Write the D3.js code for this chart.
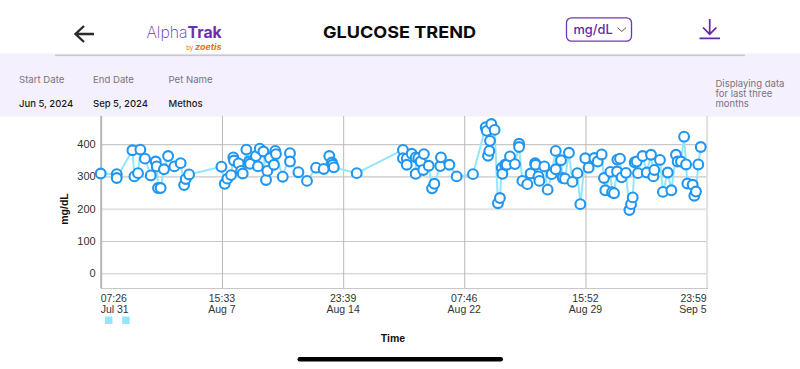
<!DOCTYPE html>
<html>
<head>
<meta charset="utf-8">
<script src="https://cdn.jsdelivr.net/npm/d3@7"></script>
<style>
html, body { margin: 0; padding: 0; background: #fff; overflow: hidden; }
text { font-family: "Liberation Sans", sans-serif; }
.ui text, text.ui { font-family: Inter, "Noto Sans", sans-serif; }
</style>
</head>
<body>
<svg id="chart" width="800" height="369"></svg>
<script>
// days since the first tick (Jul 31 07:26)
const days = [0,.97,.97,1.92,2.04,2.26,2.40,2.68,3.03,3.33,3.39,3.47,3.63,3.83,4.08,4.46,4.84,5.05,5.15,5.35,
  7.31,7.51,7.67,7.89,8.03,8.07,8.35,8.50,8.60,8.82,8.98,9.04,9.40,9.52,9.63,9.85,10.01,10.09,10.25,10.49,10.57,10.61,11.02,11.46,11.46,11.97,
  12.49,13.04,13.50,13.84,14.00,14.05,14.11,15.50,18.30,18.30,18.53,18.53,18.83,19.07,19.07,19.23,19.37,19.53,19.57,19.86,20.06,20.20,20.56,20.60,21.11,21.55,22.54,
  23.31,23.37,23.45,23.53,23.57,23.65,23.85,24.05,24.17,24.28,24.32,24.48,24.58,24.78,
  25.08,25.33,25.33,25.53,25.83,26.03,26.30,26.33,26.50,26.56,26.86,27.06,27.30,27.55,27.55,27.87,27.97,28.11,28.35,28.56,28.86,29.04,29.34,29.54,29.89,
  30.09,30.33,30.47,30.55,30.86,30.96,31.08,31.26,31.28,31.44,31.54,31.80,32.01,32.11,32.21,32.33,32.45,32.53,32.81,33.06,33.32,33.46,33.52,33.86,
  34.04,34.33,34.55,34.83,34.93,35.13,35.32,35.44,35.52,35.84,35.94,36.04,36.18,36.33];
const glucose = [309,307,295,381,300,310,383,355,303,346,331,264,264,322,363,331,341,273,292,306,
  330,277,293,304,359,349,340,317,309,383,346,339,363,331,386,377,289,317,357,336,379,369,299,372,346,313,
  286,327,323,363,343,336,328,310,382,356,355,336,370,359,308,357,346,320,369,333,263,277,332,359,336,300,307,
  452,441,364,379,410,462,444,217,233,326,308,336,336,362,
  338,401,391,286,276,309,341,336,300,286,331,259,307,379,322,350,295,293,373,283,310,214,356,327,357,
  346,368,295,257,314,251,248,315,352,355,297,311,196,214,235,344,346,310,363,312,367,300,320,351,
  252,312,257,367,346,346,423,337,278,274,240,253,337,391];
const yTicks = [0,100,200,300,400];
const xTickDays = [0,7.34,14.68,22.01,29.35,36.69];
const xTickTimes = ["07:26","15:33","23:39","07:46","15:52","23:59"];
const xTickDates = ["Jul 31","Aug 7","Aug 14","Aug 22","Aug 29","Sep 5"];
const legendDays = [0.26,1.3];
const infoLabels = ["Start Date","End Date","Pet Name"];
const infoValues = ["Jun 5, 2024","Sep 5, 2024","Methos"];
const infoX = [19,93,168.5];
const note = ["Displaying data","for last three","months"];

const svg = d3.select("#chart");
const x = d3.scaleLinear().domain([0,36.69]).range([100.7,706.7]);
const y = d3.scaleLinear().domain([-45.6,487]).range([288,116]);

// header panel
svg.append("rect").attr("x",0).attr("y",53.5).attr("width",800).attr("height",63).attr("fill","#f4f0fd");
svg.append("rect").attr("x",55).attr("y",54.5).attr("width",690).attr("height",1.6).attr("fill","#c9c7cd");

const ui = svg.append("g").attr("class","ui");
ui.append("path").attr("d","M94 34 H76 M84 26 L75.5 34 L84 42").attr("fill","none").attr("stroke","#2b2b2b").attr("stroke-width",2.4);

const logo = ui.append("text").attr("x",146.5).attr("y",38).attr("font-size",15.8).attr("fill","#6b2fb0");
logo.append("tspan").attr("font-weight",200).text("Alpha");
logo.append("tspan").attr("font-weight",700).text("Trak");
const by = ui.append("text").attr("x",221.5).attr("y",50).attr("text-anchor","end").attr("fill","#f26b21");
by.append("tspan").attr("font-size",6).text("by ");
by.append("tspan").attr("font-size",9).attr("font-weight",700).attr("font-style","italic").text("zoetis");

ui.append("text").attr("x",399.5).attr("y",38).attr("text-anchor","middle").attr("font-size",16.5).attr("font-weight",700).attr("fill","#0a0a0a")
  .attr("textLength",153).attr("lengthAdjust","spacingAndGlyphs").text("GLUCOSE TREND");

ui.append("rect").attr("x",566.5).attr("y",17.8).attr("width",65).attr("height",23.4).attr("rx",5).attr("fill","#fff").attr("stroke","#6f37ba").attr("stroke-width",1.3);
ui.append("text").attr("x",573.5).attr("y",34).attr("font-size",12.8).attr("font-weight",500).attr("fill","#6326ad").text("mg/dL");
ui.append("path").attr("d","M617.5 27.5 L621.8 31.5 L626 27.5").attr("fill","none").attr("stroke","#555").attr("stroke-width",1);
ui.append("path").attr("d","M709.7 19 V34 M703 27.5 L709.7 34.2 L716.4 27.5 M699.5 38.4 H720").attr("fill","none").attr("stroke","#6326ad").attr("stroke-width",1.7);

ui.selectAll(".info-label").data(infoLabels).join("text").attr("class","info-label")
  .attr("x",(d,i)=>infoX[i]).attr("y",83.2).attr("font-size",9.6).attr("fill","#77757c").text(d=>d);
ui.selectAll(".info-value").data(infoValues).join("text").attr("class","info-value")
  .attr("x",(d,i)=>infoX[i]).attr("y",106.8).attr("font-size",9.5).attr("font-weight",500).attr("fill","#1c1c1c").text(d=>d);
ui.selectAll(".note").data(note).join("text").attr("class","note")
  .attr("x",715.5).attr("y",(d,i)=>86.7+i*10.3).attr("font-size",9.5).attr("fill","#77757c").text(d=>d);

// axes and grid
const yAxis = svg.append("g").attr("transform","translate(100.7,0)")
  .call(d3.axisLeft(y).tickValues(yTicks).tickSize(-606).tickPadding(5));
yAxis.select(".domain").remove();
yAxis.selectAll("line").attr("stroke",d=>d==200?"#e3e3e3":"#c8c8c8").attr("stroke-width",d=>d==200?2:1.2);
yAxis.selectAll("text").attr("font-size",11).attr("fill","#333").style("font-family","'Liberation Sans'");

const xAxis = svg.append("g").attr("transform","translate(0,288)")
  .call(d3.axisBottom(x).tickValues(xTickDays).tickSize(-172).tickFormat(""));
xAxis.select(".domain").attr("stroke","#c8c8c8").attr("stroke-width",1.2);
xAxis.selectAll("line").attr("stroke",(d,i)=>i==5?"#e3e3e3":"#b9b9b9").attr("stroke-width",(d,i)=>i==5||i==0?2:1);

const anchors = ["start","middle","middle","middle","middle","end"];
const labels = svg.append("g");
labels.selectAll(".t").data(xTickDays).join("text").attr("class","t")
  .attr("x",d=>x(d)).attr("y",302).attr("text-anchor",(d,i)=>anchors[i])
  .attr("font-size",10.5).attr("fill","#333").text((d,i)=>xTickTimes[i]);
labels.selectAll(".d").data(xTickDays).join("text").attr("class","d")
  .attr("x",d=>x(d)).attr("y",313).attr("text-anchor",(d,i)=>anchors[i])
  .attr("font-size",10.5).attr("fill","#333").text((d,i)=>xTickDates[i]);

svg.append("text").attr("transform","translate(67.5,209) rotate(-90)").attr("text-anchor","middle")
  .attr("font-size",10.5).attr("font-weight",700).attr("fill","#111").text("mg/dL");
svg.append("text").attr("x",393).attr("y",342).attr("text-anchor","middle")
  .attr("font-size",10.5).attr("font-weight",700).attr("fill","#111").text("Time");

// line and points
const points = days.map((d,i)=>({day:d,value:glucose[i]}));
svg.append("path").datum(points).attr("fill","none").attr("stroke","#93e6fd").attr("stroke-width",2)
  .attr("d",d3.line().x(d=>x(d.day)).y(d=>y(d.value)));
svg.append("g").selectAll("circle").data(points).join("circle")
  .attr("cx",d=>x(d.day)).attr("cy",d=>y(d.value)).attr("r",4.9)
  .attr("fill","#fff").attr("stroke","#2196f0").attr("stroke-width",2.1);

// legend swatches under the axis
svg.append("g").selectAll("rect").data(legendDays).join("rect")
  .attr("x",d=>x(d)).attr("y",316.5).attr("width",7.5).attr("height",7.5).attr("fill","#93e6fd");

// phone home bar
svg.append("rect").attr("x",297.5).attr("y",357).attr("width",205.5).attr("height",4.6).attr("rx",2.3).attr("fill","#000");
</script>
</body>
</html>
